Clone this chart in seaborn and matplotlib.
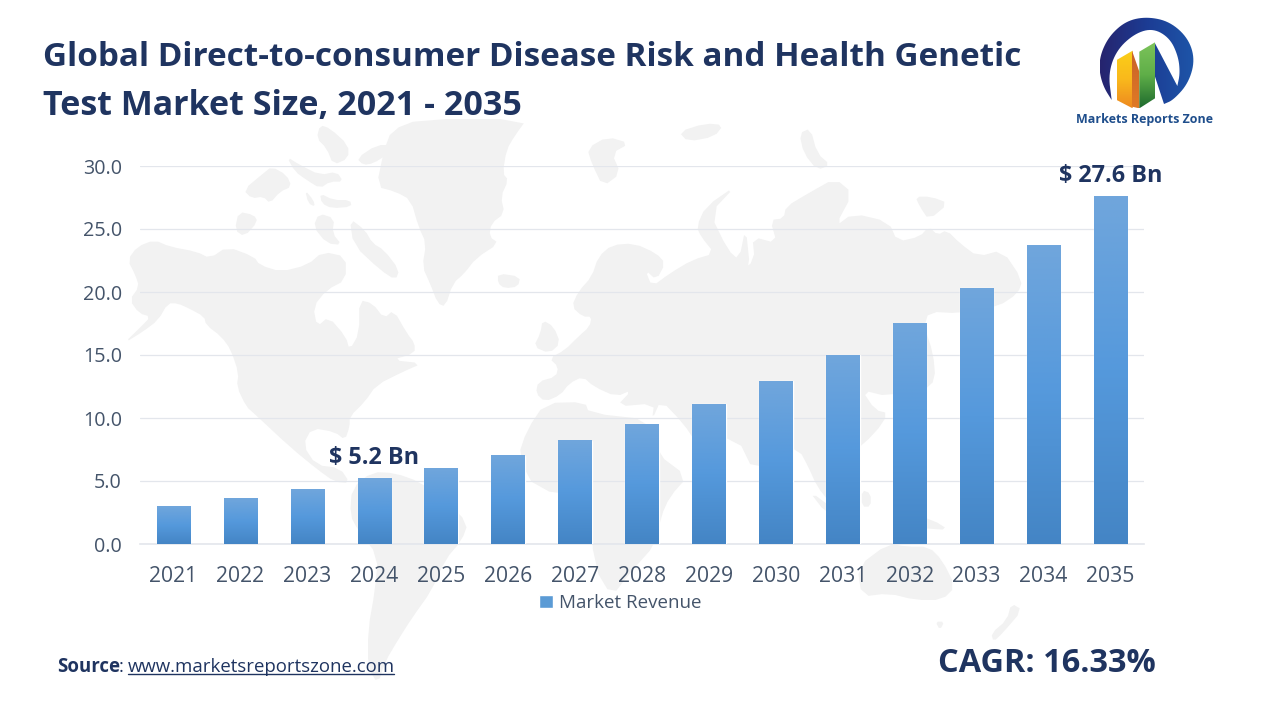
import numpy as np
import pandas as pd
import matplotlib.pyplot as plt
import seaborn as sns
from matplotlib.colors import LinearSegmentedColormap
from matplotlib.patches import Polygon

years = ['2021', '2022', '2023', '2024', '2025', '2026', '2027', '2028',
         '2029', '2030', '2031', '2032', '2033', '2034', '2035']
revenue = [3.0, 3.6, 4.3, 5.2, 6.0, 7.0, 8.2, 9.5, 11.1, 12.9, 15.0, 17.5, 20.3, 23.7, 27.6]
y_ticks = [0, 5, 10, 15, 20, 25, 30]
callouts = {'2024': '$ 5.2 Bn', '2035': '$ 27.6 Bn'}

NAVY = '#1f3460'
SLATE = '#44546a'
GRID = '#e3e6ec'
LAND = '#f2f2f2'

sns.set_theme(style='white')
plt.rcParams['font.family'] = ['Open Sans', 'DejaVu Sans']

df = pd.DataFrame({'year': years, 'revenue': revenue})
fig = plt.figure(figsize=(12.8, 7.2), dpi=100, facecolor='white')


# zoomed crop coordinates -> picture pixels, for the background art
def z3(pts):
    return [(120 + x / 2.613, 130 + y / 3) for x, y in pts]


def z4(pts):
    return [(460 + x / 2.24, 120 + y / 3) for x, y in pts]


def z5(pts):
    return [(460 + x / 2.24, 400 + y / 3) for x, y in pts]


def za(pts):
    return [(220 + x / 3, 125 + y / 3) for x, y in pts]


def logo(pts):
    return [(1060 + x / 3, 10 + y / 3) for x, y in pts]


# corner cutting so the hand traced outlines are not so angular
def smooth(pts, closed=True, rounds=2):
    pts = np.array(pts, dtype=float)
    for _ in range(rounds):
        nxt = np.roll(pts, -1, axis=0) if closed else pts[1:]
        cur = pts if closed else pts[:-1]
        cut = np.empty((2 * len(cur), 2))
        cut[0::2] = 0.75 * cur + 0.25 * nxt
        cut[1::2] = 0.25 * cur + 0.75 * nxt
        pts = cut if closed else np.vstack([pts[0], cut, pts[-1]])
    return pts


# full-figure layer in pixels for the world map and the logo
bg = fig.add_axes([0, 0, 1, 1], zorder=0)
bg.set_xlim(0, 1280)
bg.set_ylim(720, 0)
bg.axis('off')

north_america = z3([(20, 390), (45, 350), (90, 330), (130, 350), (200, 365), (235, 385), (280, 350),
                    (350, 380), (365, 405), (420, 425), (490, 405), (530, 365), (590, 380), (590, 450),
                    (540, 480), (505, 530), (515, 590), (545, 560), (590, 620), (600, 660), (625, 610),
                    (625, 510), (660, 520), (690, 565), (715, 540), (750, 610), (770, 640), (770, 670),
                    (710, 690), (790, 700), (740, 725), (670, 765), (640, 815), (600, 860), (600, 890)]) + \
    [(345, 440), (335, 432), (312, 428), (303, 445), (316, 465), (340, 468), (350, 483), (335, 482),
     (318, 470), (290, 447)] + \
    z3([(350, 850), (330, 830), (305, 770), (310, 730), (290, 660), (265, 620), (225, 585), (220, 560),
        (180, 535), (150, 520), (125, 520), (100, 570), (60, 605), (10, 640), (55, 590), (80, 560),
        (50, 550), (25, 510), (50, 470), (40, 435)])
south_america = [(352, 488), (372, 472), (395, 473), (420, 482), (445, 500), (468, 523), (462, 540),
                 (445, 560), (432, 590), (412, 618), (398, 640), (385, 662), (378, 684), (368, 668),
                 (368, 630), (375, 590), (378, 556), (358, 530), (350, 515)]
greenland = [(420, 119), (527, 119)] + z3([(1030, 20), (1010, 60), (1000, 130), (1015, 150), (995, 200),
                                           (1005, 250), (970, 280), (965, 320), (990, 340), (930, 385),
                                           (900, 430), (870, 460), (850, 530), (830, 520), (810, 460),
                                           (790, 410), (800, 340), (780, 290), (760, 210), (720, 185),
                                           (670, 170), (690, 60), (710, 0)])
eurasia = z4([(215, 770), (220, 740), (200, 715), (235, 690), (265, 650), (290, 620), (295, 590),
              (275, 590), (250, 560), (265, 515), (295, 470), (310, 410), (340, 375), (390, 370),
              (440, 400), (460, 430), (440, 480), (415, 450), (430, 500), (470, 460), (520, 420),
              (570, 400), (540, 350), (530, 320), (550, 260), (620, 195), (560, 280), (600, 390),
              (625, 420), (640, 320), (650, 450), (625, 460), (660, 420), (655, 350), (710, 370),
              (695, 300), (725, 295), (730, 260), (780, 220), (840, 175), (880, 220), (840, 320),
              (880, 280), (960, 305), (980, 365), (1030, 350), (1050, 320), (1070, 345), (1090, 330),
              (1120, 370), (1160, 410), (1215, 390), (1260, 480), (1250, 520), (1205, 560), (1120, 580),
              (1050, 575), (1040, 620), (1060, 700), (1065, 780), (1040, 810), (1000, 800), (960, 830),
              (900, 810), (930, 870)]) + \
    z5([(960, 40), (930, 100), (870, 170), (825, 220), (830, 310), (800, 260), (780, 200), (760, 150),
        (700, 130), (660, 220), (620, 110), (530, 130), (500, 70), (450, 0)]) + \
    z4([(430, 900), (435, 850), (350, 860), (385, 810), (350, 830), (300, 800), (275, 770), (245, 790),
        (225, 825), (190, 845), (170, 820), (175, 785)])
africa = [(545, 403), (585, 402), (589, 413), (652, 420)] + \
    z5([(440, 160), (510, 230), (470, 290), (450, 350), (440, 430), (380, 520), (340, 590), (300, 500),
        (290, 290), (170, 270), (130, 170), (150, 90)])
australia = z5([(960, 430), (1000, 440), (1050, 440), (1080, 480), (1110, 560), (1080, 600), (1020, 600),
                (960, 580), (900, 590), (890, 500)])
islands = [
    za([(70, 195), (130, 145), (155, 125), (200, 150), (215, 185), (180, 200), (150, 235), (130, 215), (95, 220)]),
    za([(200, 95), (240, 120), (300, 150), (350, 140), (370, 170), (330, 170), (300, 190), (260, 165), (225, 140)]),
    za([(300, 205), (340, 225), (390, 225), (395, 245), (335, 250), (305, 235)]),
    za([(300, 0), (330, 10), (385, 60), (385, 100), (340, 120), (320, 70), (290, 40)]),
    za([(410, 100), (470, 60), (520, 60), (500, 90), (460, 115), (430, 120)]),
    za([(255, 195), (280, 225), (285, 245), (265, 235)]),
    z3([(520, 250), (560, 265), (555, 310), (580, 345), (540, 340), (505, 290)]),
    z3([(600, 265), (640, 300), (660, 340), (690, 360), (730, 420), (720, 450), (680, 420), (610, 345)]),
    z3([(310, 245), (350, 255), (360, 275), (325, 320), (300, 300)]),
    z4([(85, 460), (135, 470), (130, 500), (100, 505), (85, 490)]),
    z4([(185, 600), (210, 620), (225, 670), (200, 700), (165, 680), (180, 640)]),
    z4([(285, 85), (330, 50), (380, 70), (340, 100), (360, 160), (320, 200), (295, 130)]),
    z4([(490, 35), (550, 10), (590, 15), (570, 50), (510, 65)]),
    z4([(760, 40), (785, 25), (800, 100), (830, 135), (800, 150), (770, 100)]),
    z4([(1020, 230), (1055, 230), (1095, 250), (1050, 300), (1030, 260)]),
    z4([(1045, 660), (1060, 780), (1040, 790)]),
    z5([(780, 270), (850, 340), (820, 340)]),
    z5([(900, 270), (920, 280), (920, 320), (900, 320)]),
    z5([(990, 380), (1000, 340), (1060, 360), (1095, 390), (1040, 385)]),
    z5([(1065, 665), (1085, 665), (1075, 690)]),
    z5([(1235, 610), (1260, 630), (1215, 700), (1195, 725), (1190, 700), (1225, 660)]),
]
for shape in [north_america, south_america, greenland, eurasia, africa, australia] + islands:
    bg.add_patch(Polygon(smooth(shape, rounds=1), closed=True, facecolor=LAND, edgecolor='none'))

# chart
ax = fig.add_axes([140 / 1280, 1 - 544 / 720, 1004 / 1280, 378 / 720], zorder=1)
ax.patch.set_alpha(0)
sns.barplot(data=df, x='year', y='revenue', color='#5b9bd5', width=0.5, saturation=1,
            label='Market Revenue', ax=ax, zorder=3)

bar_cmap = LinearSegmentedColormap.from_list('bar', ['#70a6dc', '#5599dc', '#4485c5'])
ramp = np.linspace(0, 1, 128).reshape(-1, 1)
for bar in ax.patches:
    x0, w, h = bar.get_x(), bar.get_width(), bar.get_height()
    ax.imshow(ramp, cmap=bar_cmap, aspect='auto', extent=(x0, x0 + w, 0, h), zorder=4)

ax.set_xlim(-0.5, 14.5)
ax.set_ylim(0, 30)
ax.set_yticks(y_ticks)
ax.set_yticklabels([f'{t:.1f}' for t in y_ticks])
ax.set_xlabel('')
ax.set_ylabel('')
ax.grid(axis='y', color=GRID, linewidth=0.9, zorder=0)
ax.set_axisbelow(True)
sns.despine(ax=ax, left=True)
ax.spines['bottom'].set_color(GRID)
ax.spines['bottom'].set_linewidth(1.2)
ax.tick_params(axis='y', length=0, pad=13, labelsize=14.2, labelcolor=SLATE)
ax.tick_params(axis='x', length=0, pad=16, labelsize=15.2, labelcolor=SLATE)

for year, text in callouts.items():
    i = years.index(year)
    ax.annotate(text.replace('$', r'\$'), (i, revenue[i]), xytext=(0, 6), textcoords='offset points',
                ha='center', va='bottom', fontsize=16.8, fontweight='bold', color=NAVY, zorder=6)

ax.legend(loc='center', bbox_to_anchor=(620 / 1280, 1 - 603 / 720), bbox_transform=fig.transFigure,
          frameon=False, fontsize=13.5, labelcolor=SLATE, handlelength=0.75, handleheight=0.75,
          handletextpad=0.3)

# title and footer
fig.text(43 / 1280, 1 - 58 / 720, 'Global Direct-to-consumer Disease Risk and Health Genetic',
         fontsize=23.95, fontweight='bold', color=NAVY, va='center')
fig.text(43 / 1280, 1 - 106 / 720, 'Test Market Size, 2021 - 2035',
         fontsize=24.5, fontweight='bold', color=NAVY, va='center')
fig.text(57 / 1280, 1 - 666.5 / 720, 'Source', fontsize=13.4, fontweight='bold', color=NAVY, va='center')
fig.text(119 / 1280, 1 - 666.5 / 720, ':', fontsize=13.4, color=NAVY, va='center')
fig.text(128 / 1280, 1 - 666.5 / 720, 'www.marketsreportszone.com', fontsize=13.4, color=NAVY, va='center')
bg.plot([128, 394], [674, 674], color=NAVY, linewidth=1)
fig.text(938 / 1280, 1 - 663 / 720, 'CAGR: 16.33%', fontsize=23.4, fontweight='bold', color=NAVY, va='center')

# logo, top right
logo_ax = fig.add_axes([0, 0, 1, 1], zorder=2)
logo_ax.set_xlim(0, 1280)
logo_ax.set_ylim(720, 0)
logo_ax.axis('off')


def gradient_shape(pts, colors, vertical=True):
    pts = np.asarray(pts)
    xs, ys = pts[:, 0], pts[:, 1]
    cmap = LinearSegmentedColormap.from_list('g', colors)
    grad = np.linspace(0, 1, 64).reshape(-1, 1) if vertical else np.linspace(0, 1, 64).reshape(1, -1)
    im = logo_ax.imshow(grad, cmap=cmap, aspect='auto', extent=(xs.min(), xs.max(), ys.max(), ys.min()))
    clip = Polygon(pts, closed=True, transform=logo_ax.transData, facecolor='none', edgecolor='none')
    logo_ax.add_patch(clip)
    im.set_clip_path(clip)


inner_edge = smooth(logo([(155, 270), (145, 190), (170, 120), (225, 70), (280, 55), (330, 85), (355, 140),
                          (360, 190), (352, 228)]), closed=False, rounds=3)
outer_edge = smooth(logo([(312, 282), (340, 270), (385, 220), (405, 150), (385, 85), (330, 35), (262, 20),
                          (200, 32), (150, 75), (122, 130), (117, 180), (130, 230), (155, 270)]),
                    closed=False, rounds=3)
crescent = np.vstack([inner_edge, logo([(285, 100), (285, 200)]), outer_edge])
gradient_shape(crescent, ['#26246e', '#1c3c94', '#1e55a8'], vertical=False)
gradient_shape(logo([(170, 150), (218, 122), (218, 295), (170, 270)]), ['#fbcf18', '#f9b91c', '#ee8a20'])
gradient_shape(logo([(216, 122), (238, 185), (238, 295), (216, 290)]), ['#c8622a', '#e07a24'])
gradient_shape(logo([(238, 125), (285, 97), (285, 265), (238, 295)]), ['#7cc35a', '#5fae48', '#1f6b2e'])
logo_ax.set_xlim(0, 1280)
logo_ax.set_ylim(720, 0)
logo_ax.text(1145, 119, 'Markets Reports Zone', fontsize=9.0, fontweight='bold', color='#1f4e8c',
             ha='center', va='center')

fig.savefig('out.png', dpi=100)
